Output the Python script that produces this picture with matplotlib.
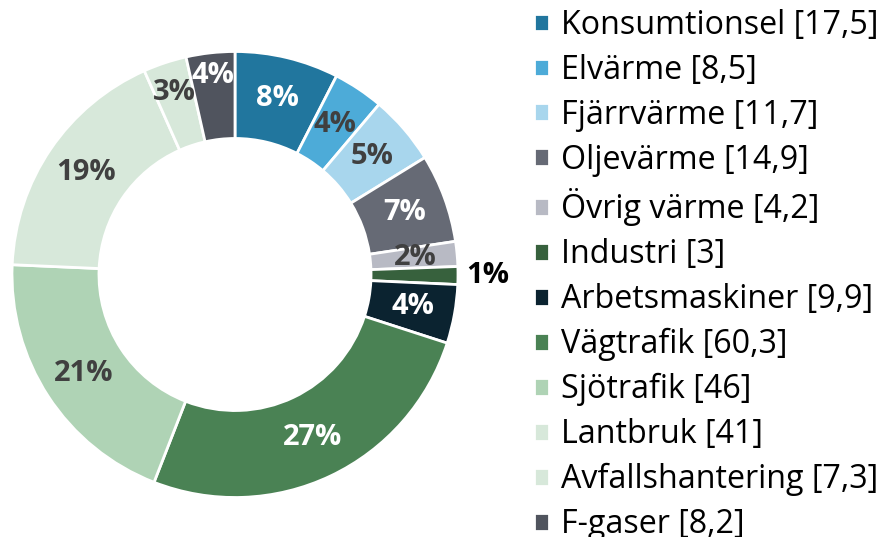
import numpy as np
import matplotlib
matplotlib.use("Agg")
import matplotlib.pyplot as plt

plt.rcParams['font.family'] = ['Open Sans', 'DejaVu Sans']

# data
categories = ["Konsumtionsel", "Elvärme", "Fjärrvärme", "Oljevärme", "Övrig värme",
              "Industri", "Arbetsmaskiner", "Vägtrafik", "Sjötrafik", "Lantbruk",
              "Avfallshantering", "F-gaser"]
values = [17.5, 8.5, 11.7, 14.9, 4.2, 3, 9.9, 60.3, 46, 41, 7.3, 8.2]
value_labels = ["17,5", "8,5", "11,7", "14,9", "4,2", "3", "9,9", "60,3", "46", "41", "7,3", "8,2"]
# percent labels as printed on the chart
pct_labels = ["8%", "4%", "5%", "7%", "2%", "1%", "4%", "27%", "21%", "19%", "3%", "4%"]

colors = ["#21769e", "#4dabd8", "#a8d6ed", "#666a75", "#b8bac4", "#37613d",
          "#0b2330", "#4a8254", "#afd3b5", "#d7e8da", "#d7e8da", "#50545e"]
text_colors = ["white", "#404040", "#404040", "white", "#404040", "black",
               "white", "white", "#404040", "#404040", "#404040", "white"]
label_r = [0.81, 0.81, 0.81, 0.81, 0.81, 1.135, 0.81, 0.81, 0.81, 0.81, 0.86, 0.9]

W, H = 881, 537
fig = plt.figure(figsize=(W / 100, H / 100), dpi=100)
cx, cy, R = 235, 274.5, 223
ax = fig.add_axes([(cx - R) / W, (H - cy - R) / H, 2 * R / W, 2 * R / H])

wedges, _ = ax.pie(values, colors=colors, startangle=90, counterclock=False,
                   radius=1.0,
                   wedgeprops=dict(width=0.39, edgecolor="white", linewidth=2))
ax.set_xlim(-1, 1)
ax.set_ylim(-1, 1)
ax.axis("off")

for w, txt, tc, r in zip(wedges, pct_labels, text_colors, label_r):
    ang = np.deg2rad((w.theta1 + w.theta2) / 2)
    ax.text(r * np.cos(ang), r * np.sin(ang), txt,
            ha="center", va="center", fontsize=21, fontweight="bold", color=tc)

labels = [f"{c} [{v}]" for c, v in zip(categories, value_labels)]
fig.legend(wedges, labels, loc="upper left", bbox_to_anchor=(534 / W, 1.0 - 9 / H),
           frameon=False, fontsize=23.2, handlelength=0.47, handleheight=0.47,
           handletextpad=0.37, labelspacing=0.368, borderaxespad=0, borderpad=0)

fig.savefig("out.png", dpi=100)
